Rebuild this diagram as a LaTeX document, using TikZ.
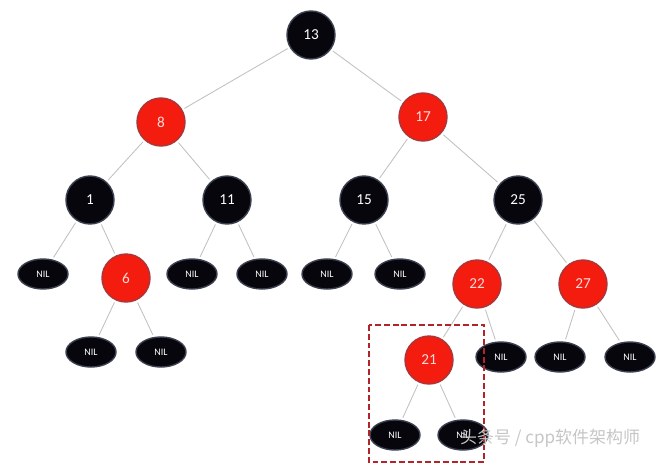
\documentclass[tikz,border=0pt]{standalone}
\usepackage{fontspec}
\setmainfont{Carlito}
\newfontfamily\cjkfont{Noto Sans CJK SC}
\usetikzlibrary{shapes.geometric}

\definecolor{nodeblack}{HTML}{06060C}
\definecolor{rimblack}{HTML}{3A4050}
\definecolor{nodered}{HTML}{F41C0E}
\definecolor{rimred}{HTML}{A8363A}
\definecolor{boxred}{HTML}{B0242A}

\tikzset{
  blacknode/.style={circle, fill=nodeblack, draw=rimblack, line width=1.2pt, minimum size=1.44cm, inner sep=0pt, text=white, font=\fontsize{13}{13}\selectfont},
  rednode/.style={circle, fill=nodered, draw=rimred, line width=1.2pt, minimum size=1.44cm, inner sep=0pt, text=red!15, font=\fontsize{13}{13}\selectfont},
  nilnode/.style={ellipse, fill=nodeblack, draw=rimblack, line width=1.2pt, minimum width=1.5cm, minimum height=0.9cm, inner sep=0pt, text=white, font=\fontsize{8.5}{8.5}\selectfont},
  edge/.style={draw=gray!50, line width=0.7pt, shorten >=2pt, shorten <=2pt}
}

\begin{document}
\begin{tikzpicture}[x=0.03cm, y=-0.03cm]

  \useasboundingbox[fill=white] (0,0) rectangle (669,467);

  % Level 0 and 1
  \node[blacknode] (n13) at (311, 35) {13};
  \node[rednode] (n8) at (161, 122) {8};
  \node[rednode] (n17) at (423, 117) {17};

  % Level 2
  \node[blacknode] (n1) at (90, 200) {1};
  \node[blacknode] (n11) at (227, 200) {11};
  \node[blacknode] (n15) at (364, 200) {15};
  \node[blacknode] (n25) at (518, 200) {25};

  % Level 3
  \node[nilnode] (nil1) at (43, 274) {NIL};
  \node[rednode] (n6) at (126, 278) {6};
  \node[nilnode] (nil11a) at (192, 274) {NIL};
  \node[nilnode] (nil11b) at (262, 274) {NIL};
  \node[nilnode] (nil15a) at (327, 274) {NIL};
  \node[nilnode] (nil15b) at (400, 274) {NIL};
  \node[rednode] (n22) at (477, 284) {22};
  \node[rednode] (n27) at (583, 284) {27};

  % Level 4
  \node[nilnode] (nil6a) at (91, 352) {NIL};
  \node[nilnode] (nil6b) at (161, 352) {NIL};
  \node[rednode] (n21) at (429, 360) {21};
  \node[nilnode] (nil22) at (501, 357) {NIL};
  \node[nilnode] (nil27a) at (560, 357) {NIL};
  \node[nilnode] (nil27b) at (630, 357) {NIL};

  % Level 5
  \node[nilnode] (nil21a) at (395, 435) {NIL};
  \node[nilnode] (nil21b) at (463, 435) {NIL};

  % Edges
  \path[edge] (n13) -- (n8);
  \path[edge] (n13) -- (n17);
  \path[edge] (n8) -- (n1);
  \path[edge] (n8) -- (n11);
  \path[edge] (n17) -- (n15);
  \path[edge] (n17) -- (n25);
  \path[edge] (n1) -- (nil1);
  \path[edge] (n1) -- (n6);
  \path[edge] (n11) -- (nil11a);
  \path[edge] (n11) -- (nil11b);
  \path[edge] (n15) -- (nil15a);
  \path[edge] (n15) -- (nil15b);
  \path[edge] (n25) -- (n22);
  \path[edge] (n25) -- (n27);
  \path[edge] (n6) -- (nil6a);
  \path[edge] (n6) -- (nil6b);
  \path[edge] (n22) -- (n21);
  \path[edge] (n22) -- (nil22);
  \path[edge] (n27) -- (nil27a);
  \path[edge] (n27) -- (nil27b);
  \path[edge] (n21) -- (nil21a);
  \path[edge] (n21) -- (nil21b);

  % Highlight box round the new node
  \draw[boxred, dashed, line width=1.6pt, dash pattern=on 5pt off 2.5pt] (369, 325) rectangle (484, 462);

  % Watermark
  \node[anchor=west, text=gray!45, font=\cjkfont\fontsize{14.5}{14.5}\selectfont] (mark) at (456, 438) {头条号 / cpp软件架构师};

\end{tikzpicture}
\end{document}
